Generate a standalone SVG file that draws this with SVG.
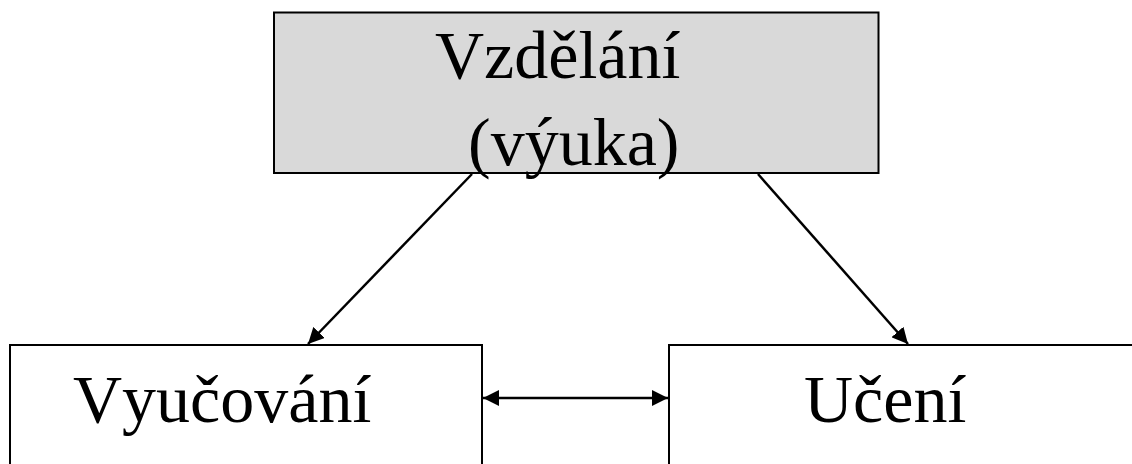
<svg xmlns="http://www.w3.org/2000/svg" width="1132" height="464" viewBox="0 0 1132 464">
  <style>
    .box { stroke: #000; stroke-width: 2; }
    .lbl { font-family: "Liberation Serif", "Times New Roman", serif; font-size: 68px; fill: #000; }
    .nokern { font-kerning: none; }
    .conn { stroke: #000; stroke-width: 2.5; fill: none; }
  </style>
  <defs>
    <marker id="ah" viewBox="0 0 16 16" refX="16" refY="8" markerWidth="16" markerHeight="16" markerUnits="userSpaceOnUse" orient="auto-start-reverse">
      <path d="M0,0 L16,8 L0,16 Z" fill="#000"/>
    </marker>
  </defs>
  <rect width="1132" height="464" fill="#fff"/>
  <g id="node-vzdelani">
    <rect class="box" x="274" y="12.5" width="604.5" height="160.5" fill="#d9d9d9" stroke-width="3"/>
    <text class="lbl" x="435" y="78">Vzdělání</text>
    <text class="lbl" x="468" y="165">(výuka)</text>
  </g>
  <g id="node-vyucovani">
    <rect class="box" x="10" y="345" width="472" height="140" fill="#fff"/>
    <text class="lbl nokern" x="73" y="422">Vyučování</text>
  </g>
  <g id="node-uceni">
    <rect class="box" x="669" y="345" width="480" height="140" fill="#fff"/>
    <text class="lbl" x="804" y="422">Učení</text>
  </g>
  <g id="connectors">
    <line class="conn" x1="472" y1="174" x2="308" y2="344" marker-end="url(#ah)"/>
    <line class="conn" x1="758" y1="174" x2="908" y2="344" marker-end="url(#ah)"/>
    <line class="conn" x1="483" y1="398" x2="668" y2="398" marker-start="url(#ah)" marker-end="url(#ah)"/>
  </g>
</svg>
